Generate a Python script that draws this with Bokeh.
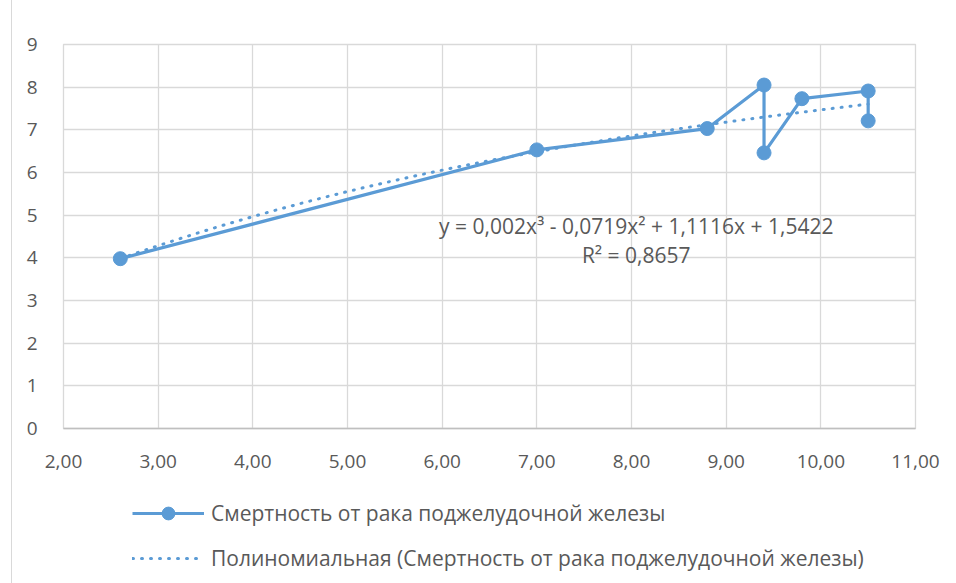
import numpy as np
from bokeh.plotting import figure
from bokeh.layouts import column
from bokeh.models import (ColumnDataSource, FixedTicker, Legend, LegendItem, Label, Range1d)
from bokeh.embed import file_html
from bokeh.resources import INLINE

# ---- data ----
x_vals = [2.6, 7.0, 8.8, 9.4, 9.4, 9.8, 10.5, 10.5]
y_vals = [3.98, 6.53, 7.03, 8.05, 6.46, 7.73, 7.91, 7.21]
series_name = "Смертность от рака поджелудочной железы"
trend_name = "Полиномиальная (Смертность от рака поджелудочной железы)"
trend_coefs = [0.002, -0.0719, 1.1116, 1.5422]  # cubic, from the chart's equation
equation_text = "y = 0,002x³ - 0,0719x² + 1,1116x + 1,5422"
r2_text = "R² = 0,8657"
x_ticks = [2, 3, 4, 5, 6, 7, 8, 9, 10, 11]
x_tick_labels = ["2,00", "3,00", "4,00", "5,00", "6,00", "7,00", "8,00", "9,00", "10,00", "11,00"]
y_ticks = [0, 1, 2, 3, 4, 5, 6, 7, 8, 9]

BLUE = "#5B9BD5"
TXT = "#595959"
GRID = "#d9d9d9"
FONT = "Open Sans"

p = figure(width=936, height=480, output_backend="svg", toolbar_location=None,
           x_range=Range1d(2, 11), y_range=Range1d(0, 9),
           min_border_left=51, min_border_right=33, min_border_top=44, min_border_bottom=52)
p.background_fill_color = "white"
p.border_fill_color = "white"
p.outline_line_color = GRID
p.outline_line_width = 1.3

p.xaxis.ticker = FixedTicker(ticks=x_ticks)
p.xaxis.major_label_overrides = {t: l for t, l in zip(x_ticks, x_tick_labels)}
p.yaxis.ticker = FixedTicker(ticks=y_ticks)
for ax in (p.xaxis, p.yaxis):
    ax.major_tick_line_color = None
    ax.minor_tick_line_color = None
    ax.major_label_text_font = FONT
    ax.major_label_text_font_size = "19px"
    ax.major_label_text_color = TXT
p.xaxis.axis_line_color = "#bfbfbf"
p.xaxis.axis_line_width = 1.3
p.yaxis.axis_line_color = None
p.xaxis.major_label_standoff = 20
p.yaxis.major_label_standoff = 20
p.xgrid.grid_line_color = GRID
p.ygrid.grid_line_color = GRID
p.xgrid.grid_line_width = 1.3
p.ygrid.grid_line_width = 1.3

# trendline
tx = np.linspace(min(x_vals), max(x_vals), 200)
ty = np.polyval(trend_coefs, tx)
p.line(tx, ty, line_color=BLUE, line_width=3, line_dash="1 8", line_cap="round")

src = ColumnDataSource(dict(x=x_vals, y=y_vals))
p.line("x", "y", source=src, line_color=BLUE, line_width=3.2, line_join="round")
p.scatter("x", "y", source=src, size=14, fill_color=BLUE, line_color=BLUE)

p.add_layout(Label(x=8.05, y=4.74, text=equation_text, text_align="center", text_baseline="middle",
                   text_font=FONT, text_font_size="21px", text_color=TXT))
p.add_layout(Label(x=8.05, y=4.06, text=r2_text, text_align="center", text_baseline="middle",
                   text_font=FONT, text_font_size="21px", text_color=TXT))

# legend figure below the chart
lg = figure(width=936, height=103, output_backend="svg", toolbar_location=None,
            x_range=Range1d(0, 1), y_range=Range1d(0, 1),
            x_axis_location=None, y_axis_location=None,
            min_border=0)
lg.outline_line_color = None
lg.xgrid.visible = False
lg.ygrid.visible = False
lg.background_fill_color = "white"
lg.border_fill_color = "white"
# placeholder glyphs kept outside the visible range; they only feed the legend swatches
hidden = ColumnDataSource(dict(x=[-5, -4], y=[-5, -4]))
l_ln = lg.line("x", "y", source=hidden, line_color=BLUE, line_width=3.2)
l_sc = lg.scatter("x", "y", source=hidden, size=14, fill_color=BLUE, line_color=BLUE)
l_tr = lg.line("x", "y", source=hidden, line_color=BLUE, line_width=3, line_dash="1 8", line_cap="round")

legend = Legend(items=[LegendItem(label=series_name, renderers=[l_ln, l_sc]),
                       LegendItem(label=trend_name, renderers=[l_tr])],
                location=(69, 9), orientation="vertical",
                glyph_width=72, glyph_height=32, label_height=20, spacing=13,
                label_standoff=7, padding=0, margin=0,
                border_line_color=None, background_fill_alpha=0,
                label_text_font=FONT, label_text_font_size="21px", label_text_color=TXT)
lg.add_layout(legend, "center")

layout = column(p, lg, spacing=0)
layout.styles = {"margin-left": "11px", "border-left": "1px solid #d9d9d9"}

open("out.html", "w").write(file_html(layout, INLINE))
